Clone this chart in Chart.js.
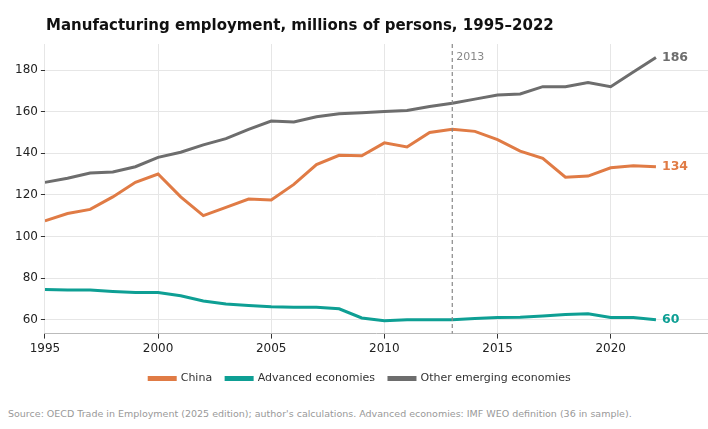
<!DOCTYPE html>
<html>
<head>
<meta charset="utf-8">
<script src="https://cdn.jsdelivr.net/npm/chart.js@4"></script>
<style>
  body { margin: 0; background: #fff; font-family: "DejaVu Sans", sans-serif; }
  #title { position: absolute; left: 46px; top: 16px; font-size: 15px; font-weight: bold; color: #111; }
  #wrap { position: relative; width: 708px; height: 394px; }
  #source { position: absolute; left: 8px; top: 408px; font-size: 9.5px; color: #999; }
</style>
</head>
<body>
<div id="wrap"><canvas id="chart"></canvas></div>
<div id="title">Manufacturing employment, millions of persons, 1995–2022</div>
<div id="source">Source: OECD Trade in Employment (2025 edition); author's calculations. Advanced economies: IMF WEO definition (36 in sample).</div>
<script>
// Manufacturing employment, millions of persons
const years = [1995, 1996, 1997, 1998, 1999, 2000, 2001, 2002, 2003, 2004, 2005, 2006, 2007, 2008,
    2009, 2010, 2011, 2012, 2013, 2014, 2015, 2016, 2017, 2018, 2019, 2020, 2021, 2022];
const china = [107.5, 111, 113, 119, 126, 130, 119, 110, 114, 118, 117.5, 125, 134.5, 139,
    138.8, 145, 143, 150, 151.5, 150.5, 146.5, 141, 137.5, 128.5, 129, 133, 134, 133.5];
const advanced = [74.5, 74.3, 74.2, 73.5, 73, 73, 71.5, 69, 67.5, 66.8, 66.2, 66, 66, 65.2,
    60.8, 59.5, 60, 60, 60, 60.5, 61, 61.2, 61.8, 62.5, 62.8, 61, 61, 60];
const otherEmerging = [126, 128, 130.5, 131, 133.5, 138, 140.5, 144, 147, 151.5, 155.5, 155, 157.5, 159,
    159.5, 160, 160.5, 162.5, 164, 166, 168, 168.5, 172, 172, 174, 172, 179, 186];
const endLabels = ['134', '60', '186'];
const markerYear = 2013;

const colors = ['#e07b45', '#0e9f94', '#6d6d6d'];
const toPoints = arr => arr.map((v, i) => ({ x: years[i], y: v }));

// dashed 2013 line and end-of-line value labels
const extras = {
    id: 'extras',
    afterDatasetsDraw(chart) {
        const { ctx, chartArea, scales } = chart;
        const x = scales.x.getPixelForValue(markerYear);
        ctx.save();
        ctx.strokeStyle = '#888';
        ctx.lineWidth = 1.2;
        ctx.setLineDash([4, 3]);
        ctx.beginPath();
        ctx.moveTo(x, chartArea.top);
        ctx.lineTo(x, chartArea.bottom);
        ctx.stroke();
        ctx.setLineDash([]);
        ctx.fillStyle = '#888';
        ctx.font = '11px "DejaVu Sans"';
        ctx.textBaseline = 'middle';
        ctx.fillText(String(markerYear), x + 4, chartArea.top + 13);
        ctx.font = 'bold 12.5px "DejaVu Sans"';
        chart.data.datasets.forEach((ds, i) => {
            const last = ds.data[ds.data.length - 1];
            ctx.fillStyle = colors[i];
            ctx.fillText(endLabels[i], scales.x.getPixelForValue(last.x) + 6, scales.y.getPixelForValue(last.y));
        });
        ctx.restore();
    }
};

new Chart(document.getElementById('chart'), {
    type: 'line',
    data: {
        datasets: [
            { label: 'China', data: toPoints(china) },
            { label: 'Advanced economies', data: toPoints(advanced) },
            { label: 'Other emerging economies', data: toPoints(otherEmerging) }
        ].map((d, i) => Object.assign(d, {
            borderColor: colors[i], backgroundColor: colors[i],
            borderWidth: 3, pointRadius: 0, tension: 0
        }))
    },
    options: {
        responsive: true,
        maintainAspectRatio: false,
        animation: false,
        layout: { padding: { left: 12, right: 0, top: 44, bottom: 0 } },
        plugins: {
            legend: {
                position: 'bottom',
                labels: {
                    color: '#333', font: { family: 'DejaVu Sans', size: 11 },
                    boxWidth: 26, boxHeight: 2, padding: 14
                }
            },
            tooltip: { enabled: false }
        },
        scales: {
            x: {
                type: 'linear', min: 1995, max: 2024.3,
                afterBuildTicks: s => { s.ticks = [1995, 2000, 2005, 2010, 2015, 2020].map(v => ({ value: v })); },
                ticks: { color: '#222', font: { family: 'DejaVu Sans', size: 12 }, callback: v => String(v) },
                grid: { color: '#e6e6e6', tickColor: '#333', tickLength: 5 },
                border: { color: '#bbb' }
            },
            y: {
                min: 53.3, max: 192.5,
                afterBuildTicks: s => { s.ticks = [60, 80, 100, 120, 140, 160, 180].map(v => ({ value: v })); },
                ticks: { color: '#222', font: { family: 'DejaVu Sans', size: 12 } },
                grid: { color: '#e6e6e6', tickColor: '#333', tickLength: 4 },
                border: { display: false }
            }
        }
    },
    plugins: [extras]
});
</script>
</body>
</html>
